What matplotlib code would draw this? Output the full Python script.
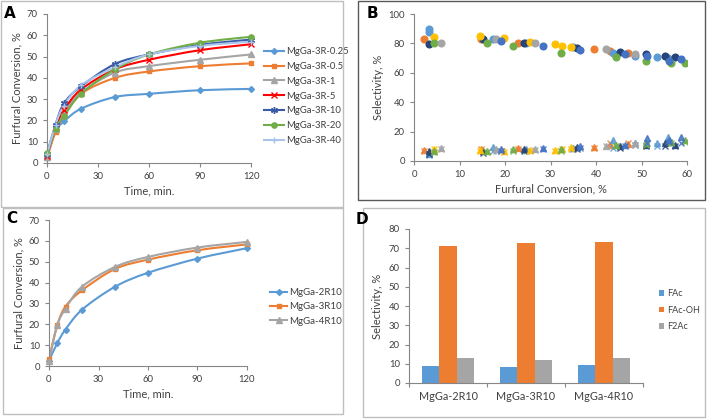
import matplotlib
matplotlib.use("Agg")
import matplotlib.pyplot as plt
from matplotlib.path import Path
from matplotlib.patches import PathPatch, Rectangle
from matplotlib.lines import Line2D
import numpy as np

plt.rcParams['font.family'] = ['Lato', 'DejaVu Sans']

# ────────────────────────────────
# Data
# ────────────────────────────────
times = [0, 5, 10, 20, 40, 60, 90, 120]

a_names = ["MgGa-3R-0.25", "MgGa-3R-0.5", "MgGa-3R-1", "MgGa-3R-5",
           "MgGa-3R-10", "MgGa-3R-20", "MgGa-3R-40"]
a_r025 = [3.0, 15.0, 19.5, 25.5, 31.0, 32.5, 34.2, 34.8]
a_r05 = [2.5, 14.5, 22.0, 32.5, 40.0, 43.0, 45.5, 46.8]
a_r1 = [3.0, 16.0, 24.0, 33.0, 42.5, 45.5, 48.5, 51.0]
a_r5 = [3.5, 17.0, 25.0, 34.5, 44.0, 48.5, 53.0, 55.8]
a_r10 = [4.0, 18.0, 28.0, 36.0, 46.5, 51.0, 55.5, 58.0]
a_r20 = [4.5, 16.0, 22.0, 32.5, 44.0, 51.0, 56.5, 59.3]
a_r40 = [4.0, 18.0, 27.0, 36.5, 45.0, 51.0, 55.0, 57.0]

c_names = ["MgGa-2R10", "MgGa-3R10", "MgGa-4R10"]
c_2r10 = [2.5, 11.0, 17.5, 27.0, 38.0, 44.7, 51.5, 56.5]
c_3r10 = [3.5, 19.5, 28.5, 36.3, 46.5, 51.0, 55.5, 58.3]
c_4r10 = [2.5, 19.5, 27.5, 38.0, 47.5, 52.3, 56.8, 59.5]

# panel B: conversion, FAc-OH (circles), FAc (triangles), F2Ac (crosses)
b_orange_x = [2.3, 14.7, 22.9, 39.6, 43.1, 47.0]
b_orange_o = [83.2, 83.0, 80.0, 76.4, 74.8, 73.7]
b_orange_t = [7.5, 8.0, 9.0, 9.5, 11.0, 11.5]
b_orange_c = [6.5, 8.5, 8.0, 9.0, 12.0, 12.0]

b_lblue_x = [3.4, 3.4, 17.3, 24.7, 35.0, 43.7, 48.6, 53.4, 55.8]
b_lblue_o = [89.6, 87.8, 82.8, 80.0, 77.3, 73.7, 71.7, 70.5, 69.8]
b_lblue_t = [5.0, 6.0, 9.5, 8.0, 9.0, 14.5, 12.5, 12.0, 16.0]
b_lblue_c = [4.0, 5.0, 7.0, 6.5, 8.0, 9.0, 11.0, 10.0, 12.0]

b_dblue_x = [3.4, 15.2, 24.2, 35.8, 45.3, 51.0, 55.1, 57.3]
b_dblue_o = [79.6, 82.8, 80.0, 76.6, 74.1, 72.6, 71.7, 71.0]
b_dblue_t = [6.5, 7.0, 8.0, 9.5, 10.0, 11.0, 12.0, 11.0]
b_dblue_c = [5.0, 5.5, 7.0, 8.0, 9.0, 10.0, 10.5, 10.0]

b_yellow_x = [4.4, 14.5, 19.8, 25.6, 31.0, 32.5, 34.5]
b_yellow_o = [84.6, 85.0, 83.4, 81.2, 79.4, 78.5, 77.8]
b_yellow_t = [8.0, 7.5, 7.0, 7.5, 7.5, 8.0, 9.5]
b_yellow_c = [8.5, 6.5, 6.0, 7.0, 7.0, 8.5, 8.0]

b_green_x = [4.4, 16.1, 21.8, 32.3, 44.3, 51.0, 56.5, 59.6]
b_green_o = [80.0, 80.5, 78.5, 73.7, 70.5, 68.3, 66.4, 66.4]
b_green_t = [7.0, 7.0, 8.0, 8.0, 11.0, 12.0, 13.0, 14.0]
b_green_c = [6.0, 6.0, 7.0, 7.0, 10.0, 11.0, 12.0, 13.0]

b_gray_x = [5.9, 18.0, 26.7, 42.1, 48.6]
b_gray_o = [80.0, 82.8, 80.0, 76.2, 72.8]
b_gray_t = [9.0, 8.0, 8.0, 10.5, 12.0]
b_gray_c = [8.5, 7.0, 7.5, 10.0, 11.0]

b_blue_x = [19.2, 28.3, 36.4, 46.4, 51.2, 56.0, 58.6]
b_blue_o = [81.4, 78.5, 75.5, 72.6, 71.4, 68.3, 69.2]
b_blue_t = [8.0, 9.0, 10.0, 11.0, 15.5, 14.0, 16.0]
b_blue_c = [7.0, 8.0, 9.0, 10.0, 12.0, 13.0, 12.0]

d_cats = ["MgGa-2R10", "MgGa-3R10", "MgGa-4R10"]
d_fac = [9.0, 8.2, 9.3]
d_facoh = [71.0, 72.7, 73.4]
d_f2ac = [13.0, 12.0, 12.8]

# ────────────────────────────────
# Style helpers
# ────────────────────────────────
W, H = 708, 420
BLUE, ORANGE, GRAY = "#5B9BD5", "#ED7D31", "#A5A5A5"
YELLOW, GREEN, DBLUE, MBLUE = "#FFC000", "#70AD47", "#264478", "#4472C4"
TXT = "#404040"
AX = "#868686"
TICK_FS = 6.8
LABEL_FS = 8

fig = plt.figure(figsize=(W / 100, H / 100), dpi=100)


def px_axes(x0, y0, x1, y1):
    return fig.add_axes([x0 / W, 1 - y1 / H, (x1 - x0) / W, (y1 - y0) / H])


def px_legend(ax, x, y_top, **kw):
    # legend with its handles starting exactly at pixel (x, y_top)
    return ax.legend(loc="upper left", bbox_to_anchor=(x / W, 1 - y_top / H),
                     bbox_transform=fig.transFigure, borderaxespad=0,
                     borderpad=0, frameon=False, labelcolor=TXT, **kw)


def excel_axes(ax):
    for s in ["top", "right"]:
        ax.spines[s].set_visible(False)
    for s in ["left", "bottom"]:
        ax.spines[s].set_color(AX)
        ax.spines[s].set_linewidth(0.8)
    ax.tick_params(colors=AX, labelcolor=TXT, labelsize=TICK_FS, length=3, width=0.8)


def smooth_line(ax, x, y, color, lw=1.5):
    # Excel-like smoothed line: Catmull-Rom segments as cubic beziers
    p = np.column_stack([x, y]).astype(float)
    n = len(p)
    verts = [p[0]]
    codes = [Path.MOVETO]
    for i in range(n - 1):
        p0 = p[max(i - 1, 0)]
        p1, p2 = p[i], p[i + 1]
        p3 = p[min(i + 2, n - 1)]
        verts += [p1 + (p2 - p0) / 6, p2 - (p3 - p1) / 6, p2]
        codes += [Path.CURVE4] * 3
    ax.add_patch(PathPatch(Path(verts, codes), fill=False, edgecolor=color,
                           lw=lw, capstyle="round", zorder=2))


def panel_box(x0, y0, x1, y1, color):
    fig.patches.append(Rectangle((x0 / W, 1 - y1 / H), (x1 - x0) / W, (y1 - y0) / H,
                                 transform=fig.transFigure, fill=False,
                                 edgecolor=color, lw=1.0))


panel_box(1, 1, 343, 207, "#BFBFBF")
panel_box(358, 1, 705, 200, "#595959")
panel_box(3, 208, 343, 414, "#BFBFBF")
panel_box(363, 208, 705, 417, "#BFBFBF")

for lab, (lx, ly) in zip("ABCD", [(10, 13), (372, 13), (12, 218), (362, 220)]):
    fig.text(lx / W, 1 - ly / H, lab, fontsize=11, fontweight="bold",
             ha="center", va="center", color="black", family="DejaVu Sans")

# ────────────────────────────────
# Panel A
# ────────────────────────────────
axA = px_axes(47, 14, 251, 163)
excel_axes(axA)
a_series = [a_r025, a_r05, a_r1, a_r5, a_r10, a_r20, a_r40]
a_styles = [(BLUE, "D", 3), (ORANGE, "s", 3.5), (GRAY, "^", 4), ("#FF0000", "x", 4),
            ("#3A5BA8", (6, 2, 0), 5), (GREEN, "o", 3.8), ("#A9C6EA", "+", 5)]
handles = []
for ys, (c, m, ms), name in zip(a_series, a_styles, a_names):
    smooth_line(axA, times, ys, c)
    axA.plot(times, ys, ls="none", marker=m, ms=ms, color=c, mec=c, mew=1.0,
             clip_on=False, zorder=3)
    handles.append(Line2D([], [], color=c, marker=m, ms=ms, mew=1.0, lw=1.5, label=name))
axA.set_xlim(0, 120)
axA.set_ylim(0, 70)
axA.set_xticks([0, 30, 60, 90, 120])
axA.set_yticks(range(0, 71, 10))
axA.set_xlabel("Time, min.", fontsize=LABEL_FS, color=TXT, labelpad=3)
axA.set_ylabel("Furfural Conversion, %", fontsize=LABEL_FS, color=TXT, labelpad=3)
px_legend(axA, 264, 47, handles=handles, fontsize=6.8, handlelength=2.1,
          labelspacing=0.62, handletextpad=0.25)

# ────────────────────────────────
# Panel B
# ────────────────────────────────
axB = px_axes(414, 14, 687, 161)
excel_axes(axB)
b_groups = [
    (ORANGE, b_orange_x, b_orange_o, b_orange_t, b_orange_c),
    (BLUE, b_lblue_x, b_lblue_o, b_lblue_t, b_lblue_c),
    (DBLUE, b_dblue_x, b_dblue_o, b_dblue_t, b_dblue_c),
    (YELLOW, b_yellow_x, b_yellow_o, b_yellow_t, b_yellow_c),
    (GREEN, b_green_x, b_green_o, b_green_t, b_green_c),
    (GRAY, b_gray_x, b_gray_o, b_gray_t, b_gray_c),
    (MBLUE, b_blue_x, b_blue_o, b_blue_t, b_blue_c),
]
for c, xs, o, t, cr in b_groups:
    axB.plot(xs, cr, ls="none", marker="x", ms=4, mew=1.0, color=c, alpha=0.85)
    axB.plot(xs, t, ls="none", marker="^", ms=4.3, color=c, alpha=0.85)
    axB.plot(xs, o, ls="none", marker="o", ms=4.8, color=c)
axB.set_xlim(0, 60)
axB.set_ylim(0, 100)
axB.set_xticks(range(0, 61, 10))
axB.set_yticks(range(0, 101, 20))
axB.set_xlabel("Furfural Conversion, %", fontsize=LABEL_FS, color=TXT, labelpad=3)
axB.set_ylabel("Selectivity, %", fontsize=LABEL_FS, color=TXT, labelpad=3)

# ────────────────────────────────
# Panel C
# ────────────────────────────────
axC = px_axes(49, 220, 247, 366)
excel_axes(axC)
c_series = [c_2r10, c_3r10, c_4r10]
c_styles = [(BLUE, "D", 3), (ORANGE, "s", 3.5), (GRAY, "^", 4)]
handles = []
for ys, (c, m, ms), name in zip(c_series, c_styles, c_names):
    smooth_line(axC, times, ys, c)
    axC.plot(times, ys, ls="none", marker=m, ms=ms, color=c, clip_on=False, zorder=3)
    handles.append(Line2D([], [], color=c, marker=m, ms=ms, lw=1.5, label=name))
axC.set_xlim(0, 120)
axC.set_ylim(0, 70)
axC.set_xticks([0, 30, 60, 90, 120])
axC.set_yticks(range(0, 71, 10))
axC.set_xlabel("Time, min.", fontsize=LABEL_FS, color=TXT, labelpad=3)
axC.set_ylabel("Furfural Conversion, %", fontsize=LABEL_FS, color=TXT, labelpad=3)
px_legend(axC, 270, 288, handles=handles, fontsize=7, handlelength=1.75,
          labelspacing=0.55, handletextpad=0.2)

# ────────────────────────────────
# Panel D
# ────────────────────────────────
axD = px_axes(409, 229, 643, 383)
excel_axes(axD)
xpos = np.arange(len(d_cats))
bw = 0.225
axD.bar(xpos - bw, d_fac, bw, color=BLUE, label="FAc")
axD.bar(xpos, d_facoh, bw, color=ORANGE, label="FAc-OH")
axD.bar(xpos + bw, d_f2ac, bw, color=GRAY, label="F2Ac")
axD.set_xlim(-0.5, len(d_cats) - 0.5)
axD.set_ylim(0, 80)
axD.set_yticks(range(0, 81, 10))
axD.set_xticks(xpos)
axD.set_xticklabels(d_cats, fontsize=7.8)
axD.set_xticks(np.arange(-0.5, len(d_cats), 1), minor=True)
axD.tick_params(axis="x", which="major", length=0, pad=6)
axD.tick_params(axis="x", which="minor", length=3, color=AX, width=0.8)
axD.set_ylabel("Selectivity, %", fontsize=LABEL_FS, color=TXT, labelpad=4)
px_legend(axD, 659, 289, fontsize=6.5, handlelength=0.6, handleheight=0.6,
          labelspacing=0.85, handletextpad=0.3)

fig.savefig("out.png", dpi=100)
